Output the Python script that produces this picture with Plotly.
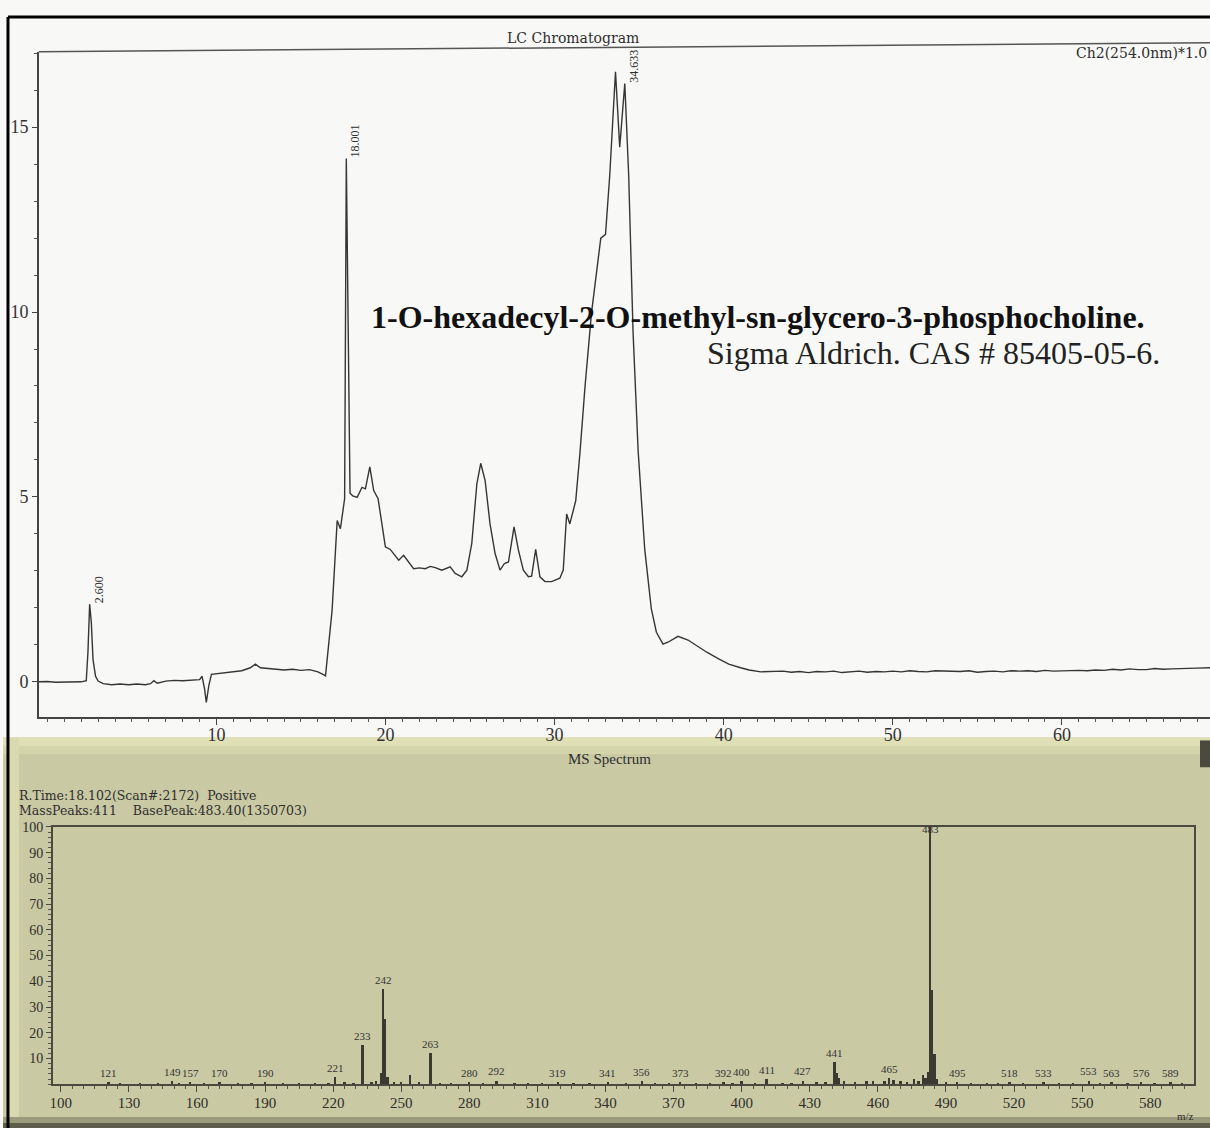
import plotly.graph_objects as go

W, H = 1210, 1128

# ---------------- LC chromatogram data (time [min], signal) ----------------
lc_time = [
    -0.5, 0.0, 0.5, 1.0, 1.5, 2.0, 2.3, 2.4, 2.5, 2.6, 2.7, 2.85, 3.0, 3.3, 3.8,
    4.3, 4.8, 5.3, 5.8, 6.1, 6.3, 6.5, 7.0, 7.5, 8.0, 8.5, 9.0, 9.15, 9.3, 9.4,
    9.55, 9.7, 10.0, 10.5, 11.0, 11.5, 12.0, 12.3, 12.6, 13.0, 13.5, 14.0, 14.5,
    15.0, 15.5, 16.0, 16.3, 16.45, 16.84, 17.14, 17.33, 17.5, 17.58, 17.68, 17.9,
    18.06, 18.32, 18.61, 18.81, 19.07, 19.3, 19.56, 19.79, 19.99, 20.28, 20.48,
    20.78, 21.07, 21.37, 21.66, 22.0, 22.35, 22.65, 22.94, 23.33, 23.82, 24.12,
    24.51, 24.81, 25.1, 25.4, 25.63, 25.89, 26.18, 26.48, 26.77, 27.03, 27.27,
    27.6, 27.86, 28.15, 28.45, 28.64, 28.88, 29.13, 29.43, 29.82, 30.31, 30.51,
    30.71, 30.9, 31.1, 31.25, 31.5, 31.8, 32.18, 32.58, 32.73, 33.01, 33.26,
    33.6, 33.85, 34.15, 34.38, 34.64, 34.94, 35.33, 35.72, 36.02, 36.41, 36.7,
    37.3, 37.89, 38.5, 39.0, 39.7, 40.3, 41.0, 41.5, 42.2, 43.0, 43.5, 44.0,
    44.5, 45.0, 45.5, 46.0, 46.5, 47.0, 47.5, 48.0, 48.5, 49.0, 49.5, 50.0,
    50.5, 51.0, 51.5, 52.0, 52.5, 53.0, 53.5, 54.0, 54.5, 55.0, 55.5, 56.0,
    56.5, 57.0, 57.5, 58.0, 58.5, 59.0, 59.5, 60.0, 60.5, 61.0, 61.5, 62.0,
    62.5, 63.0, 63.5, 64.0, 64.5, 65.0, 65.5, 66.0, 66.5, 67.0, 67.5, 68.0,
    68.8,
]
lc_signal = [
    0.00, 0.01, -0.01, 0.00, 0.01, 0.00, 0.03, 0.80, 2.10, 1.60, 0.60, 0.15, 0.02, -0.05, -0.08,
    -0.06, -0.08, -0.06, -0.08, -0.05, 0.03, -0.04, 0.02, 0.04, 0.03, 0.05, 0.06, 0.15, -0.20, -0.56,
    -0.10, 0.20, 0.22, 0.24, 0.28, 0.30, 0.38, 0.48, 0.38, 0.36, 0.33, 0.32, 0.34,
    0.31, 0.33, 0.27, 0.20, 0.16, 1.94, 4.36, 4.14, 4.63, 4.95, 14.15, 5.10,
    5.03, 4.99, 5.26, 5.22, 5.81, 5.17, 4.95, 4.19, 3.65, 3.58, 3.47,
    3.29, 3.42, 3.24, 3.06, 3.08, 3.06, 3.12, 3.09, 3.02, 3.11, 2.93,
    2.84, 3.02, 3.74, 5.35, 5.91, 5.44, 4.27, 3.47, 3.02, 3.20, 3.24,
    4.19, 3.56, 3.02, 2.84, 2.86, 3.58, 2.84, 2.71, 2.71, 2.80, 3.02,
    4.54, 4.27, 4.63, 4.90, 6.20, 8.00, 9.97, 11.57, 12.00, 12.10, 13.70,
    16.50, 14.46, 16.18, 13.70, 9.44, 6.24, 3.58, 1.97, 1.34, 1.02, 1.07,
    1.23, 1.13, 0.95, 0.80, 0.62, 0.48, 0.38, 0.32, 0.27, 0.27, 0.29, 0.26,
    0.28, 0.25, 0.28, 0.27, 0.29, 0.25, 0.28, 0.29, 0.26, 0.28, 0.27, 0.29,
    0.27, 0.30, 0.28, 0.27, 0.30, 0.29, 0.27, 0.28, 0.30, 0.26, 0.28, 0.29,
    0.27, 0.30, 0.29, 0.30, 0.28, 0.31, 0.29, 0.30, 0.32, 0.31, 0.30, 0.32,
    0.31, 0.34, 0.32, 0.35, 0.33, 0.33, 0.36, 0.34, 0.35, 0.35, 0.37, 0.37,
    0.38,
]
lc_peak_time = [2.5, 17.68, 34.15]
lc_peak_signal = [2.10, 14.15, 16.18]
lc_peak_text = ["2.600", "18.001", "34.633"]
lc_xticks = [10, 20, 30, 40, 50, 60]
lc_yticks = [0, 5, 10, 15]

# ---------------- MS spectrum data (m/z, relative intensity %) ----------------
ms_mz = [121, 126, 135, 143, 149, 152, 157, 163, 170, 178, 184, 190, 198, 205, 212,
         218, 221, 225, 229, 233, 237, 239, 241, 242, 243, 244, 247, 250, 254, 258,
         263, 267, 272, 280, 286, 292, 300, 306, 312, 319, 326, 333, 341, 349, 356,
         362, 368, 373, 380, 386, 392, 396, 400, 406, 411, 418, 422, 427, 433, 437,
         441, 442, 443, 445, 450, 455, 458, 463, 465, 467, 470, 473, 476, 478, 480,
         481, 482, 483, 484, 485, 486, 490, 495, 501, 508, 513, 518, 524, 533, 540,
         546, 553, 558, 563, 570, 576, 582, 589, 594]
ms_int = [1.0, 0.4, 0.5, 0.4, 1.2, 0.5, 1.0, 0.4, 0.8, 0.4, 0.5, 0.8, 0.4, 0.5, 0.6,
          0.7, 2.8, 0.8, 0.7, 15.3, 0.9, 1.5, 4.5, 37.0, 25.3, 3.0, 0.8, 0.9, 3.5, 0.8,
          12.3, 0.7, 0.6, 1.0, 0.6, 1.5, 0.5, 0.6, 0.5, 1.0, 0.5, 0.5, 1.0, 0.5, 1.2,
          0.5, 0.6, 0.8, 0.5, 0.6, 1.0, 0.6, 1.2, 0.6, 2.0, 0.6, 0.7, 1.5, 0.8, 0.9,
          8.8, 4.5, 2.5, 1.2, 1.0, 1.4, 1.2, 1.5, 2.6, 1.6, 1.3, 1.0, 2.2, 1.5, 3.5,
          2.5, 5.0, 100.0, 36.5, 11.8, 2.0, 0.8, 1.0, 0.5, 0.5, 0.6, 0.8, 0.5, 0.8, 0.5,
          0.6, 1.5, 0.6, 1.0, 0.5, 0.8, 0.5, 0.8, 0.6]
ms_labeled = [121, 149, 157, 170, 190, 221, 233, 242, 263, 280, 292, 319, 341, 356,
              373, 392, 400, 411, 427, 441, 465, 483, 495, 518, 533, 553, 563, 576, 589]
ms_xticks = [100, 130, 160, 190, 220, 250, 280, 310, 340, 370, 400, 430, 460, 490, 520, 550, 580]
ms_yticks = [10, 20, 30, 40, 50, 60, 70, 80, 90, 100]

# ---------------- helpers (pixel -> paper) ----------------
def px(x):
    return x / W

def py(y):
    return 1 - y / H

SERIF = "Liberation Serif, Times New Roman, serif"
WIDE = "DejaVu Serif, serif"
INK = "#2e2e2e"

fig = go.Figure()
fig.add_trace(go.Scatter(x=lc_time, y=lc_signal, mode="lines",
                         line=dict(color="#353535", width=1.4),
                         xaxis="x", yaxis="y", showlegend=False, hoverinfo="skip"))
fig.add_trace(go.Bar(x=ms_mz, y=ms_int, width=0.8,
                     marker=dict(color="#3a3a30", line=dict(width=0)),
                     xaxis="x2", yaxis="y2", showlegend=False, hoverinfo="skip"))

shapes = [
    # khaki MS panel
    dict(type="rect", xref="paper", yref="paper", x0=0, x1=1, y0=0, y1=py(735),
         fillcolor="#c9c9a3", line=dict(width=0), layer="below"),
    dict(type="rect", xref="paper", yref="paper", x0=0, x1=1, y0=py(744), y1=py(735),
         fillcolor="#dfe0b6", line=dict(width=0), layer="below"),
    dict(type="rect", xref="paper", yref="paper", x0=0, x1=1, y0=py(752), y1=py(744),
         fillcolor="#d4d5ab", line=dict(width=0), layer="below"),
    dict(type="rect", xref="paper", yref="paper", x0=px(5), x1=px(16), y0=0, y1=py(735),
         fillcolor="#d9dab0", line=dict(width=0), layer="below"),
    dict(type="rect", xref="paper", yref="paper", x0=0, x1=1, y0=0, y1=py(1117),
         fillcolor="#9a9a7c", line=dict(width=0), layer="below"),
    dict(type="rect", xref="paper", yref="paper", x0=0, x1=1, y0=0, y1=py(1123),
         fillcolor="#5e5e4c", line=dict(width=0), layer="below"),
    dict(type="rect", xref="paper", yref="paper", x0=px(1200), x1=1, y0=py(765), y1=py(738),
         fillcolor="#4a4a40", line=dict(width=0), layer="below"),
    # outer black border
    dict(type="line", xref="paper", yref="paper", x0=px(5), x1=1, y0=py(10), y1=py(10),
         line=dict(color="black", width=3)),
    dict(type="line", xref="paper", yref="paper", x0=px(5), x1=px(5), y0=0, y1=py(10),
         line=dict(color="black", width=3)),
    # top frame line of LC chromatogram (slightly tilted scan)
    dict(type="line", xref="paper", yref="paper", x0=px(36), x1=1, y0=py(45), y1=py(36),
         line=dict(color="#555555", width=1.5)),
]

annotations = [
    dict(text="LC Chromatogram", xref="paper", yref="paper", x=px(571), y=py(31),
         yanchor="middle", showarrow=False, font=dict(family=WIDE, size=14, color=INK)),
    dict(text="Ch2(254.0nm)*1.0", xref="paper", yref="paper", x=px(1209), y=py(46),
         xanchor="right", yanchor="middle", showarrow=False,
         font=dict(family=WIDE, size=14, color=INK)),
    dict(text="<b>1-O-hexadecyl-2-O-methyl-sn-glycero-3-phosphocholine.</b>",
         xref="paper", yref="paper", x=px(1146), y=py(312), xanchor="right",
         yanchor="middle", borderpad=0, showarrow=False,
         font=dict(family=SERIF, size=32, color="#111111")),
    dict(text="Sigma Aldrich. CAS # 85405-05-6.", xref="paper", yref="paper",
         x=px(1161), y=py(348), xanchor="right", yanchor="middle", borderpad=0,
         showarrow=False, font=dict(family=SERIF, size=32, color="#222222")),
    dict(text="MS Spectrum", xref="paper", yref="paper", x=px(608), y=py(757),
         yanchor="middle", showarrow=False, font=dict(family=SERIF, size=15, color=INK)),
    dict(text="R.Time:18.102(Scan#:2172)\u00a0\u00a0Positive", xref="paper", yref="paper",
         x=px(15), y=py(793), xanchor="left", yanchor="middle", borderpad=0,
         showarrow=False, font=dict(family=WIDE, size=12.5, color=INK)),
    dict(text="MassPeaks:411\u00a0\u00a0\u00a0\u00a0BasePeak:483.40(1350703)", xref="paper",
         yref="paper", x=px(15), y=py(809), xanchor="left", yanchor="middle",
         borderpad=0, showarrow=False, font=dict(family=WIDE, size=12.5, color=INK)),
    dict(text="m/z", xref="paper", yref="paper", x=px(1196), y=py(1116), yanchor="middle",
         showarrow=False, font=dict(family=SERIF, size=11, color=INK)),
]

for t, v, s in zip(lc_peak_time, lc_peak_signal, lc_peak_text):
    annotations.append(dict(text=s, x=t, y=v, xref="x", yref="y", textangle=-90,
                            xanchor="center", yanchor="bottom", xshift=9, yshift=-1,
                            showarrow=False, font=dict(family=SERIF, size=12, color=INK)))

ms_lookup = dict(zip(ms_mz, ms_int))
for m in ms_labeled:
    v = ms_lookup[m]
    top = v >= 95
    annotations.append(dict(text=str(m), x=m, y=v, xref="x2", yref="y2",
                            xanchor="center", yanchor="top" if top else "bottom",
                            yshift=6 if top else 1, showarrow=False,
                            font=dict(family=SERIF, size=11, color="#333333")))

axis_common = dict(showgrid=False, zeroline=False, showline=True, ticks="outside")

fig.update_layout(
    width=W, height=H, autosize=False,
    margin=dict(l=0, r=0, t=0, b=0, pad=0),
    paper_bgcolor="#f8f8f6", plot_bgcolor="rgba(0,0,0,0)",
    showlegend=False, bargap=0,
    shapes=shapes, annotations=annotations,
    xaxis=dict(**axis_common, domain=[px(36), 1], range=[-0.5, 68.76], anchor="y",
               tickvals=lc_xticks, ticklen=7, tickwidth=1.2, tickcolor="#444444",
               linecolor="#444444", linewidth=1.5, ticklabelstandoff=-6,
               minor=dict(dtick=1, tick0=0, ticklen=4, tickcolor="#555555", ticks="outside"),
               tickfont=dict(family=SERIF, size=18, color="#333333")),
    yaxis=dict(**axis_common, domain=[py(714), py(45)], range=[-0.94, 17.04], anchor="x",
               tickvals=lc_yticks, ticklen=5, tickwidth=1.2, tickcolor="#444444",
               linecolor="#444444", linewidth=1.5,
               minor=dict(dtick=1, tick0=0, ticklen=3, tickcolor="#555555", ticks="outside"),
               tickfont=dict(family=SERIF, size=18, color="#333333")),
    xaxis2=dict(**axis_common, domain=[px(50), px(1194)], range=[96.5, 599.3], anchor="y2",
                mirror=True, tickvals=ms_xticks, ticklen=6, tickwidth=1.2,
                tickcolor="#4a4a40", linecolor="#4a4a40", linewidth=1.5, ticklabelstandoff=-2,
                minor=dict(dtick=5, tick0=100, ticklen=3, tickcolor="#55554a", ticks="outside"),
                tickfont=dict(family=SERIF, size=15, color="#2e2e2a")),
    yaxis2=dict(**axis_common, domain=[py(1084), py(825)], range=[0, 100], anchor="x2",
                mirror=True, tickvals=ms_yticks, ticklen=5, tickwidth=1.2,
                tickcolor="#4a4a40", linecolor="#4a4a40", linewidth=1.5,
                minor=dict(dtick=2, tick0=0, ticklen=3, tickcolor="#55554a", ticks="outside"),
                tickfont=dict(family=SERIF, size=14, color="#2e2e2a")),
)

fig.write_html(
    "out.html",
    config={"displayModeBar": False},
    post_script="document.body.style.margin='0';document.body.style.padding='0';"
                "document.body.style.overflow='hidden';"
                "document.documentElement.style.overflow='hidden';",
)
